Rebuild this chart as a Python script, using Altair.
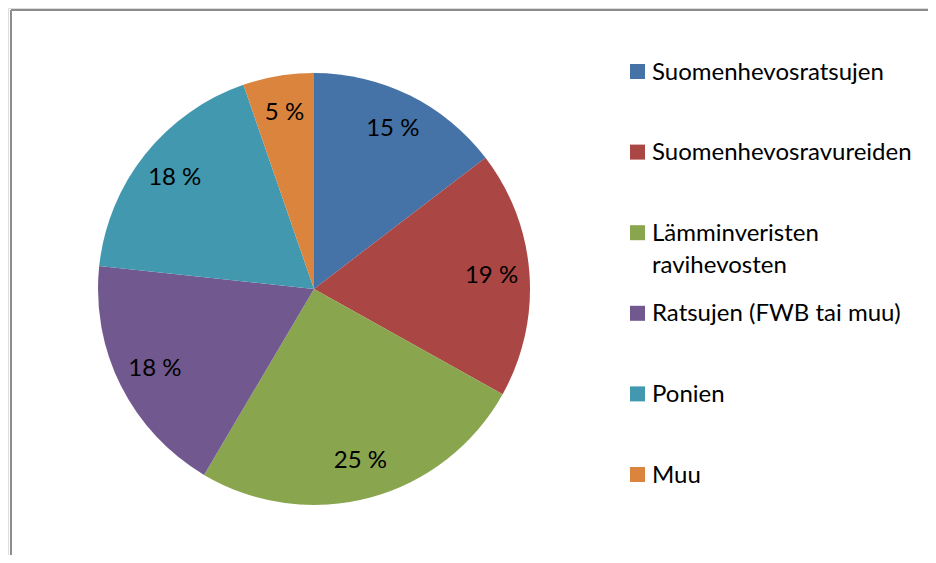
import altair as alt
import pandas as pd

categories = ["Suomenhevosratsujen", "Suomenhevosravureiden", "Lämminveristen ravihevosten",
              "Ratsujen (FWB tai muu)", "Ponien", "Muu"]
legend_labels = ["Suomenhevosratsujen", "Suomenhevosravureiden", "Lämminveristen\nravihevosten",
                 "Ratsujen (FWB tai muu)", "Ponien", "Muu"]
values = [14.6, 18.5, 25.4, 18.2, 18.0, 5.3]
pct_labels = ["15 %", "19 %", "25 %", "18 %", "18 %", "5 %"]
colors = ["#4572A7", "#AA4643", "#89A54E", "#71588F", "#4198AF", "#DB843D"]

df = pd.DataFrame({
    "cat": categories,
    "legend": legend_labels,
    "value": values,
    "pct": pct_labels,
    "idx": list(range(len(categories))),
})

FONT = "Lato"
FS = 24
CX, CY = 306, 281

color = alt.Color("cat:N", scale=alt.Scale(domain=categories, range=colors), legend=None)
theta = alt.Theta("value:Q", stack=True)
order = alt.Order("idx:Q", sort="ascending")

base = alt.Chart(df)

pie = base.mark_arc(radius=216).encode(
    theta=theta, color=color, order=order,
    x=alt.value(CX), y=alt.value(CY),
)

pie_text = base.mark_text(radius=178, font=FONT, fontSize=FS, color="black").encode(
    theta=theta, order=order, text="pct:N",
    x=alt.value(CX), y=alt.value(CY),
)

yscale = alt.Scale(domain=[0, 5], range=[63.5, 466.5])

leg_sym = base.mark_square(size=225, opacity=1).encode(
    x=alt.value(629.5),
    y=alt.Y("idx:Q", scale=yscale, axis=None),
    color=color,
)

leg_text = base.mark_text(align="left", baseline="alphabetic", dy=8, font=FONT,
                          fontSize=FS, lineBreak="\n", lineHeight=32, color="black").encode(
    x=alt.value(644),
    y=alt.Y("idx:Q", scale=yscale, axis=None),
    text="legend:N",
)

frame_v = base.mark_rule(color="#8c8c8c", strokeWidth=2).encode(
    x=alt.value(3), y=alt.value(2), y2=alt.value(547))
frame_h = base.mark_rule(color="#8c8c8c", strokeWidth=2).encode(
    x=alt.value(3), x2=alt.value(920), y=alt.value(2))

chart = alt.layer(frame_v, frame_h, pie, pie_text, leg_sym, leg_text).properties(
    width=920, height=547, padding=0,
    autosize=alt.AutoSizeParams(type="none"),
).configure_view(stroke=None).configure(background="white")

chart.save("out.html", embed_options={"renderer": "svg", "actions": False})
